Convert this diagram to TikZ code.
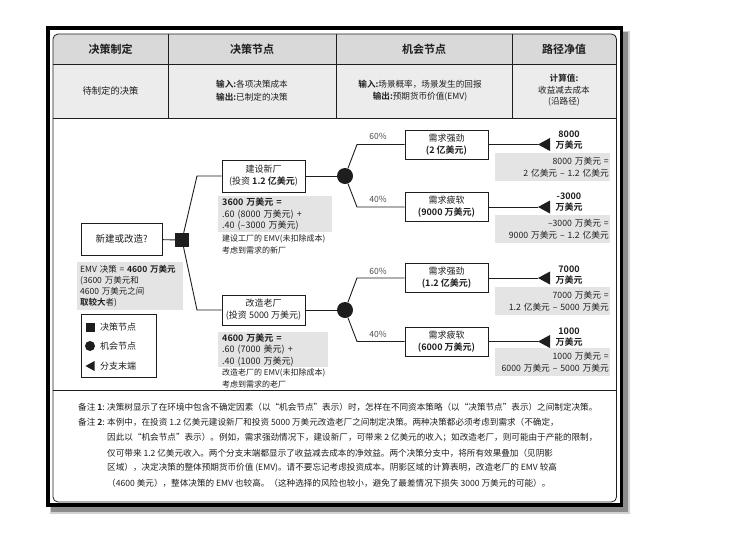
\documentclass[tikz,border=0pt]{standalone}
\usepackage{fontspec}
\setmainfont{Noto Sans CJK SC}[BoldFont={Noto Sans CJK SC Bold}]
\definecolor{hdrgray}{HTML}{D9D9D9}
\definecolor{rowgray}{HTML}{ECECEC}
\definecolor{shadegray}{HTML}{E4E4E4}
\definecolor{ink}{HTML}{1E1E1E}
\newcommand{\fsz}[2]{\fontsize{#1}{#2}\selectfont}
\tikzset{
  hdrtext/.style={font=\fsz{11}{13}\bfseries, text=ink},
  rowtext/.style={font=\fsz{8.6}{12.5}, align=center, text=ink},
  treebox/.style={draw=ink, line width=0.9pt, fill=white, align=center, minimum width=83pt, minimum height=30pt, inner sep=1pt, font=\fsz{9}{12}, text=ink},
  decisionnode/.style={rectangle, fill=ink, minimum size=14pt, inner sep=0pt},
  chancenode/.style={circle, fill=ink, minimum size=16pt, inner sep=0pt},
  conn/.style={draw=ink, line width=0.9pt},
  prob/.style={font=\fsz{8.5}{10}, text=black!70},
  valuelabel/.style={font=\fsz{9}{11}\bfseries, align=center, text=ink},
  pathbox/.style={fill=shadegray, anchor=north west, minimum width=115pt, minimum height=28pt, text width=112pt, inner xsep=1.5pt, inner ysep=1pt, align=right, font=\fsz{8.7}{12}, text=ink},
  shadebox/.style={fill=shadegray, anchor=north west, inner xsep=4pt, inner ysep=1.5pt, align=left, font=\fsz{9}{11.3}, text=ink},
  smallnote/.style={font=\fsz{8}{10}, anchor=west, text=ink, inner sep=0pt},
  legendtext/.style={font=\fsz{9}{11}, anchor=west, text=ink, inner sep=0pt},
  notetext/.style={font=\fsz{8.6}{10}, anchor=west, text=ink, inner sep=0pt},
}
\begin{document}
\begin{tikzpicture}[x=1pt,y=-1pt]
\useasboundingbox (0,0) rectangle (730,552);
% outer frame with shadow
\fill[black!18] (50,31) rectangle (630,514);
\fill[black!45] (51,32) rectangle (628,512);
\draw[line width=3.5pt, fill=white] (47.75,27.75) rectangle (621.25,504.75);
% table fills
\begin{scope}
\clip[rounded corners=5pt] (53,34) rectangle (616.5,502);
\fill[hdrgray] (53,34) rectangle (616.5,64);
\fill[rowgray] (53,64) rectangle (616.5,118);
\end{scope}
\draw[line width=0.8pt, draw=ink, rounded corners=5pt] (53,34) rectangle (616.5,502);
\draw[line width=0.8pt, draw=ink] (53,64) -- (616.5,64);
\draw[line width=0.8pt, draw=ink] (53,118) -- (616.5,118);
\draw[line width=0.8pt, draw=ink] (53,390) -- (616.5,390);
\foreach \xx in {168,336,512} \draw[line width=0.8pt, draw=ink] (\xx,34) -- (\xx,118);
% headers
\node[hdrtext] (h1) at (110.5,49) {决策制定};
\node[hdrtext] (h2) at (252,49) {决策节点};
\node[hdrtext] (h3) at (424,49) {机会节点};
\node[hdrtext] (h4) at (564,49) {路径净值};
\node[rowtext, font=\fsz{9.3}{12}] (r1) at (110.5,90.5) {待制定的决策};
\node[rowtext] (r2) at (252,90.5) {\textbf{输入:}各项决策成本\\\textbf{输出:}已制定的决策};
\node[rowtext] (r3) at (420,90.5) {\textbf{输入:}场景概率，场景发生的回报\\\textbf{输出:}预期货币价值(EMV)};
\node[rowtext, font=\fsz{8.6}{11.5}] (r4) at (564,90.5) {\textbf{计算值:}\\收益减去成本\\(沿路径)};
% shaded calc boxes
\node[shadebox, minimum width=114pt, minimum height=36pt, text width=106pt] (e1) at (218,196) {\textbf{3600 万美元 =}\\.60 (8000 万美元) +\\.40 (–3000 万美元)};
\node[smallnote] (n1) at (222,239) {建设工厂的 EMV(未扣除成本)};
\node[smallnote] (n2) at (222,250) {考虑到需求的新厂};
\node[shadebox, minimum width=110pt, minimum height=34pt, text width=102pt] (e2) at (218,332) {\textbf{4600 万美元 =}\\.60 (7000 美元) +\\.40 (1000 万美元)};
\node[smallnote] (n3) at (222,373) {改造老厂的 EMV(未扣除成本)};
\node[smallnote] (n4) at (222,384) {考虑到需求的老厂};
\node[shadebox, font=\fsz{8.5}{11}, inner xsep=3pt, minimum width=106pt, minimum height=48pt, text width=100pt] (emv) at (77,262) {EMV 决策 = \textbf{4600 万美元}\\(3600 万美元和\\4600 万美元之间\\\textbf{取较大}者)};
% legend
\node[draw=ink, line width=0.9pt, minimum width=75pt, minimum height=63pt, anchor=north west] (leg) at (81,314) {};
\node[rectangle, fill=ink, minimum size=9pt, inner sep=0pt] (ls) at (90,327) {};
\node[circle, fill=ink, minimum size=10pt, inner sep=0pt] (lc) at (90,346) {};
\coordinate (lt) at (85.5,366);
\fill[ink] (lt) -- ++(9,-5) -- ++(0,10) -- cycle;
\node[legendtext] (lt1) at (100,327) {决策节点};
\node[legendtext] (lt2) at (100,346) {机会节点};
\node[legendtext] (lt3) at (100,366) {分支末端};
% tree nodes
\node[treebox, minimum width=81pt, minimum height=32pt, font=\fsz{9.5}{12}] (root) at (121.5,239) {新建或改造?};
\node[decisionnode] (d0) at (182,240) {};
\node[treebox, minimum height=32pt] (b1) at (263.5,176) {建设新厂\\(投资 \textbf{1.2 亿美元})};
\node[treebox] (b2) at (263.5,310) {改造老厂\\(投资 5000 万美元)};
\node[chancenode] (c1) at (345,176) {};
\node[chancenode] (c2) at (345,310) {};
\node[treebox, minimum height=29pt] (s1) at (446.5,144.5) {需求强劲\\\textbf{(2 亿美元)}};
\node[treebox, minimum height=29pt] (s2) at (446.5,207) {需求疲软\\\textbf{(9000 万美元)}};
\node[treebox, minimum height=29pt] (s3) at (446.5,278) {需求强劲\\\textbf{(1.2 亿美元)}};
\node[treebox, minimum height=29pt] (s4) at (446.5,341.5) {需求疲软\\\textbf{(6000 万美元)}};
\coordinate (k1) at (197,176);
\coordinate (k2) at (197,310);
\coordinate (k3) at (357,144.5);
\coordinate (k4) at (357,207);
\coordinate (k5) at (357,278);
\coordinate (k6) at (357,341.5);
\coordinate (t1) at (538,144.5);
\coordinate (t2) at (538,207);
\coordinate (t3) at (538,278);
\coordinate (t4) at (538,341.5);
% connectors
\draw[conn] (root) -- (d0);
\draw[conn] (d0) -- (k1) -- (b1);
\draw[conn] (d0) -- (k2) -- (b2);
\draw[conn] (b1) -- (c1);
\draw[conn] (b2) -- (c2);
\draw[conn] (c1) -- (k3) -- (s1);
\draw[conn] (c1) -- (k4) -- (s2);
\draw[conn] (c2) -- (k5) -- (s3);
\draw[conn] (c2) -- (k6) -- (s4);
\draw[conn] (s1) -- (t1);
\draw[conn] (s2) -- (t2);
\draw[conn] (s3) -- (t3);
\draw[conn] (s4) -- (t4);
\foreach \tt in {t1,t2,t3,t4} \fill[ink] (\tt) -- ++(12,-6.5) -- ++(0,13) -- cycle;
% probabilities
\node[prob] (p1) at (378,136) {60\%};
\node[prob] (p2) at (378,199) {40\%};
\node[prob] (p3) at (378,271) {60\%};
\node[prob] (p4) at (378,334) {40\%};
% leaf values
\node[valuelabel] (v1) at (569,140.5) {8000\\万美元};
\node[valuelabel] (v2) at (569,202.5) {-3000\\万美元};
\node[valuelabel] (v3) at (569,275.5) {7000\\万美元};
\node[valuelabel] (v4) at (569,337.5) {1000\\万美元};
\node[pathbox] (g1) at (495,153) {8000 万美元 =\\2 亿美元 – 1.2 亿美元};
\node[pathbox] (g2) at (495,215) {–3000 万美元 =\\9000 万美元 – 1.2 亿美元};
\node[pathbox] (g3) at (495,287) {7000 万美元 =\\1.2 亿美元 – 5000 万美元};
\node[pathbox] (g4) at (495,348) {1000 万美元 =\\6000 万美元 – 5000 万美元};
% notes
\node[notetext] (nl1) at (78,407) {备注 \textbf{1}:};
\node[notetext] (nl2) at (78,422) {备注 \textbf{2}:};
\node[notetext] (m1) at (107,407) {决策树显示了在环境中包含不确定因素（以“机会节点”表示）时，怎样在不同资本策略（以“决策节点”表示）之间制定决策。};
\node[notetext] (m2) at (107,422) {本例中，在投资 1.2 亿美元建设新厂和投资 5000 万美元改造老厂之间制定决策。两种决策都必须考虑到需求（不确定，};
\node[notetext] (m3) at (107,438) {因此以“机会节点”表示）。例如，需求强劲情况下，建设新厂，可带来 2 亿美元的收入；如改造老厂，则可能由于产能的限制，};
\node[notetext] (m4) at (107,453) {仅可带来 1.2 亿美元收入。两个分支末端都显示了收益减去成本的净效益。两个决策分支中，将所有效果叠加（见阴影};
\node[notetext] (m5) at (107,468) {区域），决定决策的整体预期货币价值 (EMV)。请不要忘记考虑投资成本。阴影区域的计算表明，改造老厂的 EMV 较高};
\node[notetext] (m6) at (107,483) {（4600 美元），整体决策的 EMV 也较高。（这种选择的风险也较小，避免了最差情况下损失 3000 万美元的可能）。};
\end{tikzpicture}
\end{document}
